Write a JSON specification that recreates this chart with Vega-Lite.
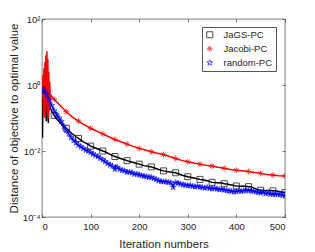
{
"$schema": "https://vega.github.io/schema/vega-lite/v6.json",
"width": 243, "height": 198,
"autosize": "none",
"padding": {"left": 42, "top": 19, "right": 30, "bottom": 35},
"config": {
  "view": {"stroke": "#262626", "strokeWidth": 0.6},
  "axis": {"grid": false, "domain": false, "tickColor": "#262626", "tickSize": -3, "tickWidth": 0.6, "labelColor": "#262626", "titleColor": "#262626", "labelFontSize": 9.5, "titleFontSize": 11.5, "titleFontWeight": "normal", "labelFont": "Liberation Sans", "titleFont": "Liberation Sans"},
  "legend": {"labelFontSize": 9.5, "labelFont": "Liberation Sans", "labelColor": "#262626"}
},
"data": {"values": [
{"s":"JaGS-PC","it":0,"v":0.71},{"s":"JaGS-PC","it":1,"v":0.025},{"s":"JaGS-PC","it":2,"v":0.5},{"s":"JaGS-PC","it":3,"v":0.4},{"s":"JaGS-PC","it":5,"v":0.35},{"s":"JaGS-PC","it":7,"v":0.45},{"s":"JaGS-PC","it":9,"v":0.08},{"s":"JaGS-PC","it":10,"v":0.45},{"s":"JaGS-PC","it":12,"v":0.5},{"s":"JaGS-PC","it":13,"v":0.07},{"s":"JaGS-PC","it":14,"v":0.35},{"s":"JaGS-PC","it":15,"v":0.25},{"s":"JaGS-PC","it":20,"v":0.16},{"s":"JaGS-PC","it":25,"v":0.12},{"s":"JaGS-PC","it":30,"v":0.095},{"s":"JaGS-PC","it":35,"v":0.079},{"s":"JaGS-PC","it":40,"v":0.066},{"s":"JaGS-PC","it":45,"v":0.056},{"s":"JaGS-PC","it":50,"v":0.049},{"s":"JaGS-PC","it":55,"v":0.042},{"s":"JaGS-PC","it":60,"v":0.035},{"s":"JaGS-PC","it":65,"v":0.031},{"s":"JaGS-PC","it":70,"v":0.027},{"s":"JaGS-PC","it":75,"v":0.024},{"s":"JaGS-PC","it":80,"v":0.0214},{"s":"JaGS-PC","it":85,"v":0.019},{"s":"JaGS-PC","it":90,"v":0.0174},{"s":"JaGS-PC","it":95,"v":0.0158},{"s":"JaGS-PC","it":100,"v":0.0141},{"s":"JaGS-PC","it":110,"v":0.0123},{"s":"JaGS-PC","it":120,"v":0.0107},{"s":"JaGS-PC","it":125,"v":0.01},{"s":"JaGS-PC","it":130,"v":0.0095},{"s":"JaGS-PC","it":140,"v":0.0079},{"s":"JaGS-PC","it":150,"v":0.0068},{"s":"JaGS-PC","it":160,"v":0.006},{"s":"JaGS-PC","it":170,"v":0.0054},{"s":"JaGS-PC","it":175,"v":0.0051},{"s":"JaGS-PC","it":180,"v":0.0048},{"s":"JaGS-PC","it":190,"v":0.0044},{"s":"JaGS-PC","it":200,"v":0.004},{"s":"JaGS-PC","it":210,"v":0.0036},{"s":"JaGS-PC","it":220,"v":0.0034},{"s":"JaGS-PC","it":225,"v":0.0033},{"s":"JaGS-PC","it":230,"v":0.0031},{"s":"JaGS-PC","it":240,"v":0.00275},{"s":"JaGS-PC","it":250,"v":0.0025},{"s":"JaGS-PC","it":260,"v":0.00234},{"s":"JaGS-PC","it":270,"v":0.00224},{"s":"JaGS-PC","it":275,"v":0.00219},{"s":"JaGS-PC","it":280,"v":0.00204},{"s":"JaGS-PC","it":290,"v":0.00182},{"s":"JaGS-PC","it":300,"v":0.00166},{"s":"JaGS-PC","it":310,"v":0.00155},{"s":"JaGS-PC","it":320,"v":0.00145},{"s":"JaGS-PC","it":325,"v":0.00138},{"s":"JaGS-PC","it":330,"v":0.00135},{"s":"JaGS-PC","it":340,"v":0.00126},{"s":"JaGS-PC","it":350,"v":0.00112},{"s":"JaGS-PC","it":360,"v":0.0011},{"s":"JaGS-PC","it":370,"v":0.00107},{"s":"JaGS-PC","it":375,"v":0.00102},{"s":"JaGS-PC","it":380,"v":0.001},{"s":"JaGS-PC","it":390,"v":0.00093},{"s":"JaGS-PC","it":400,"v":0.00087},{"s":"JaGS-PC","it":410,"v":0.00085},{"s":"JaGS-PC","it":420,"v":0.00085},{"s":"JaGS-PC","it":425,"v":0.00083},{"s":"JaGS-PC","it":430,"v":0.00083},{"s":"JaGS-PC","it":440,"v":0.00071},{"s":"JaGS-PC","it":450,"v":0.00065},{"s":"JaGS-PC","it":460,"v":0.00063},{"s":"JaGS-PC","it":470,"v":0.00063},{"s":"JaGS-PC","it":475,"v":0.00062},{"s":"JaGS-PC","it":480,"v":0.00062},{"s":"JaGS-PC","it":490,"v":0.00058},{"s":"JaGS-PC","it":500,"v":0.00055},
{"s":"Jacobi-PC","it":0,"v":0.5},{"s":"Jacobi-PC","it":1,"v":0.63},{"s":"Jacobi-PC","it":2,"v":2.0},{"s":"Jacobi-PC","it":3,"v":0.126},{"s":"Jacobi-PC","it":4,"v":3.2},{"s":"Jacobi-PC","it":5,"v":0.1},{"s":"Jacobi-PC","it":6,"v":5.0},{"s":"Jacobi-PC","it":7,"v":0.16},{"s":"Jacobi-PC","it":8,"v":7.9},{"s":"Jacobi-PC","it":9,"v":0.25},{"s":"Jacobi-PC","it":10,"v":10.5},{"s":"Jacobi-PC","it":11,"v":0.126},{"s":"Jacobi-PC","it":12,"v":6.3},{"s":"Jacobi-PC","it":13,"v":0.1},{"s":"Jacobi-PC","it":14,"v":2.5},{"s":"Jacobi-PC","it":15,"v":0.16},{"s":"Jacobi-PC","it":16,"v":1.26},{"s":"Jacobi-PC","it":17,"v":0.25},{"s":"Jacobi-PC","it":18,"v":0.5},{"s":"Jacobi-PC","it":20,"v":0.45},{"s":"Jacobi-PC","it":25,"v":0.37},{"s":"Jacobi-PC","it":37.5,"v":0.24},{"s":"Jacobi-PC","it":50,"v":0.155},{"s":"Jacobi-PC","it":62.5,"v":0.107},{"s":"Jacobi-PC","it":75,"v":0.081},{"s":"Jacobi-PC","it":87.5,"v":0.062},{"s":"Jacobi-PC","it":100,"v":0.049},{"s":"Jacobi-PC","it":112.5,"v":0.04},{"s":"Jacobi-PC","it":125,"v":0.033},{"s":"Jacobi-PC","it":137.5,"v":0.027},{"s":"Jacobi-PC","it":150,"v":0.0224},{"s":"Jacobi-PC","it":162.5,"v":0.019},{"s":"Jacobi-PC","it":175,"v":0.0162},{"s":"Jacobi-PC","it":187.5,"v":0.0138},{"s":"Jacobi-PC","it":200,"v":0.012},{"s":"Jacobi-PC","it":212.5,"v":0.0107},{"s":"Jacobi-PC","it":225,"v":0.0095},{"s":"Jacobi-PC","it":237.5,"v":0.0085},{"s":"Jacobi-PC","it":250,"v":0.0078},{"s":"Jacobi-PC","it":262.5,"v":0.0068},{"s":"Jacobi-PC","it":275,"v":0.0059},{"s":"Jacobi-PC","it":287.5,"v":0.0052},{"s":"Jacobi-PC","it":300,"v":0.0047},{"s":"Jacobi-PC","it":312.5,"v":0.0043},{"s":"Jacobi-PC","it":325,"v":0.004},{"s":"Jacobi-PC","it":337.5,"v":0.0037},{"s":"Jacobi-PC","it":350,"v":0.0035},{"s":"Jacobi-PC","it":362.5,"v":0.0032},{"s":"Jacobi-PC","it":375,"v":0.003},{"s":"Jacobi-PC","it":387.5,"v":0.00275},{"s":"Jacobi-PC","it":400,"v":0.0026},{"s":"Jacobi-PC","it":412.5,"v":0.0025},{"s":"Jacobi-PC","it":425,"v":0.0024},{"s":"Jacobi-PC","it":437.5,"v":0.00224},{"s":"Jacobi-PC","it":450,"v":0.0021},{"s":"Jacobi-PC","it":462.5,"v":0.00195},{"s":"Jacobi-PC","it":475,"v":0.00186},{"s":"Jacobi-PC","it":487.5,"v":0.00178},{"s":"Jacobi-PC","it":500,"v":0.00174},
{"s":"random-PC","it":0,"v":0.71},{"s":"random-PC","it":5,"v":0.63},{"s":"random-PC","it":10,"v":0.5},{"s":"random-PC","it":15,"v":0.35},{"s":"random-PC","it":20,"v":0.24},{"s":"random-PC","it":25,"v":0.166},{"s":"random-PC","it":30,"v":0.126},{"s":"random-PC","it":35,"v":0.1},{"s":"random-PC","it":40,"v":0.079},{"s":"random-PC","it":45,"v":0.056},{"s":"random-PC","it":50,"v":0.042},{"s":"random-PC","it":55,"v":0.033},{"s":"random-PC","it":60,"v":0.026},{"s":"random-PC","it":65,"v":0.021},{"s":"random-PC","it":70,"v":0.0178},{"s":"random-PC","it":75,"v":0.0151},{"s":"random-PC","it":80,"v":0.0135},{"s":"random-PC","it":85,"v":0.012},{"s":"random-PC","it":90,"v":0.0107},{"s":"random-PC","it":95,"v":0.01},{"s":"random-PC","it":100,"v":0.0091},{"s":"random-PC","it":105,"v":0.0081},{"s":"random-PC","it":110,"v":0.0074},{"s":"random-PC","it":115,"v":0.0068},{"s":"random-PC","it":120,"v":0.006},{"s":"random-PC","it":125,"v":0.0054},{"s":"random-PC","it":130,"v":0.0048},{"s":"random-PC","it":135,"v":0.0042},{"s":"random-PC","it":140,"v":0.0038},{"s":"random-PC","it":145,"v":0.0035},{"s":"random-PC","it":150,"v":0.0028},{"s":"random-PC","it":152,"v":0.0036},{"s":"random-PC","it":155,"v":0.0032},{"s":"random-PC","it":160,"v":0.0028},{"s":"random-PC","it":165,"v":0.0026},{"s":"random-PC","it":170,"v":0.0025},{"s":"random-PC","it":175,"v":0.0023},{"s":"random-PC","it":180,"v":0.0023},{"s":"random-PC","it":185,"v":0.0022},{"s":"random-PC","it":190,"v":0.002},{"s":"random-PC","it":195,"v":0.002},{"s":"random-PC","it":200,"v":0.0019},{"s":"random-PC","it":205,"v":0.0018},{"s":"random-PC","it":210,"v":0.00174},{"s":"random-PC","it":215,"v":0.00166},{"s":"random-PC","it":220,"v":0.00162},{"s":"random-PC","it":225,"v":0.00158},{"s":"random-PC","it":230,"v":0.00148},{"s":"random-PC","it":235,"v":0.00138},{"s":"random-PC","it":240,"v":0.00126},{"s":"random-PC","it":245,"v":0.0012},{"s":"random-PC","it":250,"v":0.00118},{"s":"random-PC","it":255,"v":0.00117},{"s":"random-PC","it":260,"v":0.00112},{"s":"random-PC","it":265,"v":0.0011},{"s":"random-PC","it":270,"v":0.0008},{"s":"random-PC","it":272,"v":0.00105},{"s":"random-PC","it":275,"v":0.0011},{"s":"random-PC","it":280,"v":0.00107},{"s":"random-PC","it":285,"v":0.001},{"s":"random-PC","it":290,"v":0.00095},{"s":"random-PC","it":295,"v":0.00093},{"s":"random-PC","it":300,"v":0.00089},{"s":"random-PC","it":305,"v":0.00091},{"s":"random-PC","it":310,"v":0.00085},{"s":"random-PC","it":315,"v":0.00083},{"s":"random-PC","it":320,"v":0.00085},{"s":"random-PC","it":325,"v":0.00081},{"s":"random-PC","it":330,"v":0.00079},{"s":"random-PC","it":335,"v":0.00076},{"s":"random-PC","it":340,"v":0.00079},{"s":"random-PC","it":345,"v":0.00074},{"s":"random-PC","it":350,"v":0.00072},{"s":"random-PC","it":355,"v":0.00074},{"s":"random-PC","it":360,"v":0.00071},{"s":"random-PC","it":365,"v":0.00068},{"s":"random-PC","it":370,"v":0.00069},{"s":"random-PC","it":375,"v":0.00066},{"s":"random-PC","it":380,"v":0.00063},{"s":"random-PC","it":385,"v":0.00062},{"s":"random-PC","it":390,"v":0.0006},{"s":"random-PC","it":395,"v":0.00058},{"s":"random-PC","it":400,"v":0.00059},{"s":"random-PC","it":405,"v":0.00063},{"s":"random-PC","it":410,"v":0.0006},{"s":"random-PC","it":415,"v":0.00062},{"s":"random-PC","it":420,"v":0.00065},{"s":"random-PC","it":425,"v":0.00062},{"s":"random-PC","it":430,"v":0.00063},{"s":"random-PC","it":435,"v":0.0006},{"s":"random-PC","it":440,"v":0.00058},{"s":"random-PC","it":445,"v":0.00056},{"s":"random-PC","it":450,"v":0.00054},{"s":"random-PC","it":455,"v":0.00058},{"s":"random-PC","it":460,"v":0.00051},{"s":"random-PC","it":465,"v":0.00054},{"s":"random-PC","it":470,"v":0.00049},{"s":"random-PC","it":475,"v":0.0005},{"s":"random-PC","it":480,"v":0.00048},{"s":"random-PC","it":485,"v":0.0005},{"s":"random-PC","it":490,"v":0.00047},{"s":"random-PC","it":495,"v":0.00046},{"s":"random-PC","it":500,"v":0.00044}
]},
"resolve": {"scale": {"x": "independent", "y": "independent"}},
"layer": [
  {
    "encoding": {
      "x": {"field": "it", "type": "quantitative", "scale": {"domain": [0, 500], "nice": false, "zero": false},
            "axis": {"values": [0, 100, 200, 300, 400, 500], "title": "Iteration numbers", "labelPadding": 7, "titlePadding": 8}},
      "y": {"field": "v", "type": "quantitative", "scale": {"type": "log", "domain": [0.0001, 100], "nice": false},
            "axis": {"values": [0.0001, 0.01, 1, 100], "labelExpr": "datum.value == 100 ? '10²' : datum.value == 1 ? '10⁰' : datum.value == 0.01 ? '10⁻²' : '10⁻⁴'", "title": "Distance of objective to optimal value", "labelPadding": 5, "titlePadding": 3}},
      "color": {"field": "s", "type": "nominal", "scale": {"domain": ["JaGS-PC", "Jacobi-PC", "random-PC"], "range": ["#000000", "#ff0000", "#0000ff"]},
                "legend": {"title": null, "orient": "none", "legendX": 160, "legendY": 8, "strokeColor": "#555555", "fillColor": "#ffffff", "padding": 3, "rowPadding": 3, "symbolStrokeWidth": 1, "symbolSize": 36, "labelOffset": 9, "offset": 0}}
    },
    "layer": [
      {
        "mark": {"type": "line", "strokeWidth": 1.5, "clip": true}
      },
      {
        "transform": [{"filter": "(datum.s == 'random-PC' && datum.it % 5 == 0) || (datum.s != 'random-PC' && datum.it % 25 == 0)"}],
        "mark": {"type": "point", "filled": false, "strokeWidth": 1, "size": 36, "clip": true},
        "encoding": {
          "shape": {"field": "s", "type": "nominal", "scale": {"domain": ["JaGS-PC", "Jacobi-PC", "random-PC"], "range": ["square", "M-1,0L1,0M0,-1L0,1M-0.7,-0.7L0.7,0.7M-0.7,0.7L0.7,-0.7", "M0,-1L0.225,-0.309L0.951,-0.309L0.363,0.118L0.588,0.809L0,0.382L-0.588,0.809L-0.363,0.118L-0.951,-0.309L-0.225,-0.309Z"]},
                    "legend": {"title": null, "orient": "none", "legendX": 160, "legendY": 8}}
        }
      }
    ]
  },
  {
    "mark": {"type": "point", "opacity": 0},
    "encoding": {
      "x": {"field": "it", "type": "quantitative", "scale": {"domain": [0, 500], "nice": false, "zero": false},
            "axis": {"orient": "top", "values": [0, 100, 200, 300, 400, 500], "labels": false, "title": null}},
      "y": {"field": "v", "type": "quantitative", "scale": {"type": "log", "domain": [0.0001, 100], "nice": false},
            "axis": {"orient": "right", "values": [0.0001, 0.01, 1, 100], "labels": false, "title": null}}
    }
  }
]
}
